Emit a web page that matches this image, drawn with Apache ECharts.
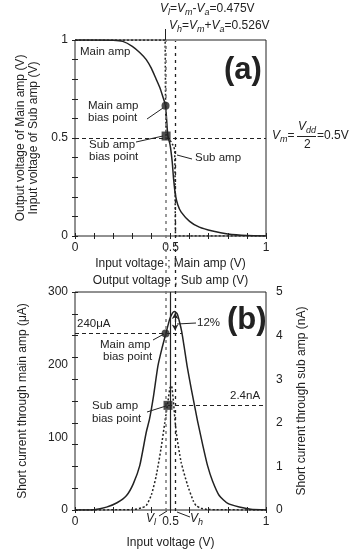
<!DOCTYPE html>
<html>
<head>
<meta charset="utf-8">
<script src="https://cdn.jsdelivr.net/npm/echarts@6/dist/echarts.min.js"></script>
<style>
  html, body { margin: 0; padding: 0; background: #fff; }
  #main { width: 357px; height: 552px; }
</style>
</head>
<body>
<div id="main"></div>
<script>
// 数据 (a) 输入输出电压
var mainVx = [0, 0.1, 0.2, 0.25, 0.3, 0.34, 0.373, 0.4, 0.425, 0.445, 0.46, 0.474, 0.486, 0.498, 0.509, 0.516, 0.526, 0.538, 0.556, 0.6, 0.651, 0.72, 0.8, 0.9, 1];
var mainVy = [1, 1, 0.999, 0.993, 0.968, 0.935, 0.9, 0.855, 0.8, 0.755, 0.71, 0.664, 0.512, 0.464, 0.378, 0.293, 0.208, 0.16, 0.122, 0.075, 0.045, 0.025, 0.01, 0.002, 0];
var subVx = [0, 0.472, 0.474, 0.477, 0.49, 0.503, 0.515, 0.522, 0.524, 0.525, 0.526, 1];
var subVy = [1, 1, 0.7, 0.512, 0.5, 0.48, 0.46, 0.44, 0.3, 0.1, 0, 0];

// 数据 (b) 短路电流
var mainIx = [0, 0.1, 0.165, 0.22, 0.27, 0.305, 0.339, 0.373, 0.39, 0.41, 0.434, 0.455, 0.478, 0.495, 0.51, 0.522, 0.535, 0.548, 0.559, 0.573, 0.587, 0.61, 0.642, 0.67, 0.694, 0.72, 0.755, 0.8, 0.86, 0.92, 1];
var mainIy = [0, 0.5, 4, 10, 20, 36, 61, 107, 125, 155, 198, 222, 245, 262, 271, 273, 270, 258, 245, 222, 198, 165, 122, 88, 61, 40, 20, 9, 4, 1, 0];
var subIx = [0, 0.3, 0.35, 0.373, 0.4, 0.425, 0.45, 0.47, 0.487, 0.497, 0.505, 0.515, 0.53, 0.556, 0.59, 0.62, 0.634, 0.66, 0.7, 1];
var subIy = [0, 0.01, 0.05, 0.1, 0.35, 0.78, 1.4, 2.0, 2.5, 2.8, 2.85, 2.5, 1.78, 1.09, 0.56, 0.2, 0.1, 0.04, 0.01, 0];

// 参考点
var Vl = 0.474, Vh = 0.526, Vm = 0.5;
var mainBiasA = [0.474, 0.664];
var subBiasA = [0.477, 0.51];
var mainBiasB = [0.474, 243];
var subBiasB = [0.487, 2.4];
var peakI = 271;

var xTickLabels = ['0', '0.5', '1'];
var yTickLabelsA = ['0', '0.5', '1'];

var F = 'Liberation Sans, Arial, sans-serif';
var C = '#222';

function zip(xs, ys) { return xs.map(function (x, i) { return [x, ys[i]]; }); }

function only(list) {
  return function (v) {
    var s = String(+v.toFixed(2));
    return list.indexOf(s) >= 0 ? s : '';
  };
}

var myChart = echarts.init(document.getElementById('main'));

var tick = { show: true, inside: true, length: 3, lineStyle: { color: C } };
var lbl = { color: C, fontSize: 12, fontFamily: F };
var nameStyle = { color: C, fontSize: 12, fontFamily: F, lineHeight: 17 };

function xAx(grid, pos, show, extra) {
  return Object.assign({
    type: 'value', gridIndex: grid, position: pos, min: 0, max: 1, interval: 0.1,
    axisLine: { show: false }, splitLine: { show: false }, axisTick: tick,
    axisLabel: show ? Object.assign({ margin: 6, formatter: only(xTickLabels) }, lbl) : { show: false }
  }, extra || {});
}

var dash = [4, 3];
var rich = {
  i: { fontStyle: 'italic', fontSize: 12, fontFamily: F, fill: C },
  s: { fontStyle: 'italic', fontSize: 9, fontFamily: F, fill: C, padding: [6, 0, 0, 0] },
  n: { fontSize: 12, fontFamily: F, fill: C }
};

function txt(x, y, text, extra) {
  return { type: 'text', left: x, top: y, z: 50,
    style: Object.assign({ text: text, fill: C, font: '11.5px ' + F, lineHeight: 12 }, extra || {}) };
}
function seg(x1, y1, x2, y2) {
  return { type: 'line', z: 50, shape: { x1: x1, y1: y1, x2: x2, y2: y2 }, style: { stroke: C, lineWidth: 1 } };
}

var option = {
  animation: false,
  grid: [
    { left: 75, top: 40, width: 191, height: 196, show: true, borderColor: C, borderWidth: 1 },
    { left: 75, top: 292, width: 191, height: 219, show: true, borderColor: C, borderWidth: 1 },
    { left: 75, top: 29, width: 191, height: 482, show: false }
  ],
  xAxis: [
    xAx(0, 'bottom', true, {
      name: 'Input voltage ; Main amp (V)\nOutput voltage ; Sub amp (V)',
      nameLocation: 'middle', nameGap: 14, nameTextStyle: nameStyle
    }),
    xAx(0, 'top', false),
    xAx(1, 'bottom', true, {
      name: 'Input voltage (V)', nameLocation: 'middle', nameGap: 24, nameTextStyle: nameStyle
    }),
    xAx(1, 'top', false),
    { type: 'value', gridIndex: 2, min: 0, max: 1, show: false }
  ],
  yAxis: [
    {
      type: 'value', gridIndex: 0, position: 'left', min: 0, max: 1, interval: 0.1,
      axisLine: { show: false }, splitLine: { show: false }, axisTick: tick,
      axisLabel: Object.assign({ margin: 7, formatter: only(yTickLabelsA) }, lbl),
      name: 'Output voltage of Main amp (V)\nInput voltage of Sub amp (V)',
      nameLocation: 'middle', nameGap: 30,
      nameTextStyle: Object.assign({}, nameStyle, { lineHeight: 13 })
    },
    {
      type: 'value', gridIndex: 0, position: 'right', min: 0, max: 1, interval: 0.1,
      axisLine: { show: false }, splitLine: { show: false }, axisTick: tick, axisLabel: { show: false }
    },
    {
      type: 'value', gridIndex: 1, position: 'left', min: 0, max: 300, interval: 100,
      axisLine: { show: false }, splitLine: { show: false }, axisTick: { show: false },
      axisLabel: Object.assign({ margin: 7 }, lbl),
      name: 'Short current through main amp (\u03bcA)', nameLocation: 'middle', nameGap: 44,
      nameTextStyle: nameStyle
    },
    {
      type: 'value', gridIndex: 1, position: 'right', min: 0, max: 5, interval: 0.5,
      axisLine: { show: false }, splitLine: { show: false }, axisTick: tick,
      axisLabel: Object.assign({ margin: 10, formatter: only(['0', '1', '2', '3', '4', '5']) }, lbl),
      name: 'Short current through sub amp (nA)', nameLocation: 'middle', nameGap: 27,
      nameTextStyle: nameStyle
    },
    {
      type: 'value', gridIndex: 1, position: 'left', min: 0, max: 5, interval: 0.5,
      axisLine: { show: false }, splitLine: { show: false }, axisTick: tick, axisLabel: { show: false }
    },
    { type: 'value', gridIndex: 2, min: 0, max: 1, show: false }
  ],
  series: [
    // (a) Main amp
    {
      name: 'Main amp', type: 'line', xAxisIndex: 0, yAxisIndex: 0, showSymbol: false, smooth: 0.2,
      lineStyle: { color: C, width: 1.5 }, data: zip(mainVx, mainVy),
      markLine: {
        silent: true, symbol: 'none', label: { show: false },
        lineStyle: { color: C, type: dash, width: 1.2 },
        data: [{ yAxis: 0.5 }]
      }
    },
    {
      name: 'Sub amp', type: 'line', xAxisIndex: 0, yAxisIndex: 0, showSymbol: false,
      lineStyle: { color: C, width: 1.5, type: [2, 2] }, data: zip(subVx, subVy)
    },
    {
      type: 'scatter', xAxisIndex: 0, yAxisIndex: 0, symbol: 'circle', symbolSize: 8, z: 5,
      itemStyle: { color: C }, data: [mainBiasA]
    },
    {
      type: 'scatter', xAxisIndex: 0, yAxisIndex: 0, symbol: 'rect', symbolSize: 9, z: 5,
      itemStyle: { color: C }, data: [subBiasA]
    },
    // (b) Main amp current
    {
      type: 'line', xAxisIndex: 2, yAxisIndex: 2, showSymbol: false, smooth: 0.2,
      lineStyle: { color: C, width: 1.5 }, data: zip(mainIx, mainIy),
      markLine: {
        silent: true, symbol: 'none', label: { show: false },
        lineStyle: { color: C, type: dash, width: 1.2 },
        data: [
          [{ coord: [0, mainBiasB[1]] }, { coord: [0.56, mainBiasB[1]] }],
          [{ coord: [Vm, 0] }, { coord: [Vm, 300], lineStyle: { type: 'solid', width: 1.2 } }],
          [{ coord: [0.524, 247], symbol: 'arrow', symbolSize: [5, 6] },
           { coord: [0.524, peakI], symbol: 'arrow', symbolSize: [5, 6], lineStyle: { type: 'solid', width: 1 } }]
        ]
      }
    },
    // (b) Sub amp current
    {
      type: 'line', xAxisIndex: 2, yAxisIndex: 3, showSymbol: false, smooth: 0.2,
      lineStyle: { color: C, width: 1.5, type: [2, 2] }, data: zip(subIx, subIy),
      markLine: {
        silent: true, symbol: 'none', label: { show: false },
        lineStyle: { color: C, type: dash, width: 1.2 },
        data: [[{ coord: [subBiasB[0], subBiasB[1]] }, { coord: [1, subBiasB[1]] }]]
      }
    },
    {
      type: 'scatter', xAxisIndex: 2, yAxisIndex: 2, symbol: 'circle', symbolSize: 8, z: 5,
      itemStyle: { color: C }, data: [mainBiasB]
    },
    {
      type: 'scatter', xAxisIndex: 2, yAxisIndex: 3, symbol: 'rect', symbolSize: 9, z: 5,
      itemStyle: { color: C }, data: [subBiasB]
    },
    // V_l / V_h 贯穿两图的竖线
    {
      type: 'line', xAxisIndex: 4, yAxisIndex: 5, data: [], z: 4,
      markLine: {
        silent: true, symbol: 'none', label: { show: false },
        data: [
          [{ coord: [Vl, 0], lineStyle: { color: '#777', type: [3, 4], width: 1.5 } }, { coord: [Vl, 0.977] }],
          [{ coord: [Vl, 0.977], lineStyle: { color: C, type: 'solid', width: 1 } }, { coord: [Vl, 1] }],
          [{ coord: [Vh, 0], lineStyle: { color: C, type: [3, 4], width: 1.3 } }, { coord: [Vh, 0.975] }]
        ]
      }
    }
  ],
  graphic: [
    txt(160, 3, '{i|V}{s|l}{n|=}{i|V}{s|m}{n|-}{i|V}{s|a}{n|=0.475V}', { rich: rich }),
    txt(169, 20, '{i|V}{s|h}{n|=}{i|V}{s|m}{n|+}{i|V}{s|a}{n|=0.526V}', { rich: rich }),
    // V_m = V_dd / 2 = 0.5V
    txt(272, 130, '{i|V}{s|m}{n|=}', { rich: rich }),
    txt(298, 121, '{i|V}{s|dd}', { rich: rich }),
    seg(297, 136.5, 316, 136.5),
    txt(304, 139, '2', { font: '12px ' + F }),
    txt(317, 130, '=0.5V', { font: '12px ' + F }),
    // (a)
    txt(80, 46, 'Main amp'),
    txt(224, 54, '(a)', { font: 'bold 31px ' + F, lineHeight: 32 }),
    txt(88, 100, 'Main amp\nbias point'),
    seg(147, 119, 163, 108),
    txt(89, 139, 'Sub amp\nbias point'),
    seg(136, 142, 163, 136),
    txt(195, 152, 'Sub amp'),
    seg(177, 155, 192, 159),
    // (b)
    txt(77, 318, '240\u03bcA'),
    txt(227, 304, '(b)', { font: 'bold 31px ' + F, lineHeight: 32 }),
    txt(100, 339, 'Main amp'),
    txt(103, 351, 'bias point'),
    seg(153, 340, 164, 334),
    txt(197, 317, '12%'),
    seg(177, 324, 196, 323),
    txt(230, 390, '2.4nA'),
    txt(92, 400, 'Sub amp'),
    txt(92, 413, 'bias point'),
    seg(147, 412, 166, 406),
    txt(146, 513, '{i|V}{s|l}', { rich: rich }),
    seg(159, 516, 167, 511),
    txt(190, 513, '{i|V}{s|h}', { rich: rich }),
    seg(177, 512, 190, 517)
  ]
};

option && myChart.setOption(option);
</script>
</body>
</html>
